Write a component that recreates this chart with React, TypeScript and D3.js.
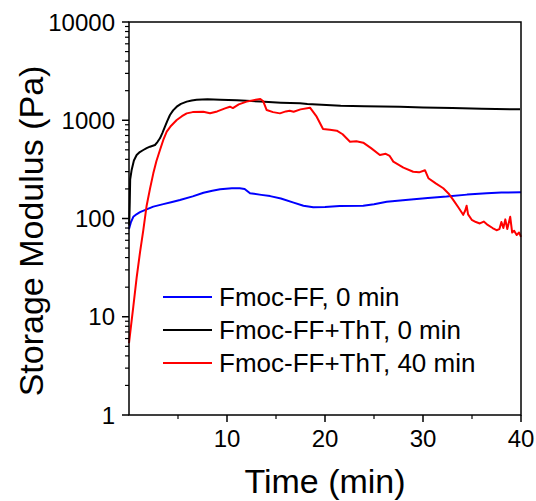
import React from "react";
import * as d3 from "d3";

const blackT = [0.02, 0.08, 0.12, 0.27, 0.5, 0.78, 1.1, 1.46, 1.8, 2.14, 2.65, 2.9, 3.16, 3.4, 3.67, 3.9, 4.18, 4.5, 4.87, 5.3, 5.89, 6.4, 6.9, 8, 9.3, 11, 13.4, 15.5, 17.45, 18.2, 21.6, 24, 27.65, 30, 33, 36, 39.9];
const blackV = [85, 150, 250, 312, 390, 443, 475, 498, 520, 538, 560, 600, 655, 740, 860, 980, 1130, 1260, 1374, 1470, 1548, 1590, 1615, 1635, 1620, 1595, 1548, 1510, 1487, 1463, 1406, 1390, 1374, 1350, 1330, 1310, 1292];

const blueT = [0, 0.2, 0.44, 0.8, 1.12, 1.8, 2.48, 3.5, 4.4, 5.2, 6.5, 7.6, 8.5, 9.3, 10.5, 11.3, 11.8, 12.35, 13.5, 14.4, 15.5, 16.8, 17.8, 18.8, 20, 21.5, 23.9, 25, 26.3, 28.5, 30.5, 32.4, 34.5, 36.5, 38, 40];
const blueV = [78, 92, 104, 111, 116, 124, 132, 140, 147, 154, 168, 183, 192, 198, 203, 203, 200, 181, 174, 169, 160, 145, 135, 130, 131, 134, 135, 140, 148, 155, 162, 167, 175, 181, 184, 185];

const redT = [0, 0.2, 0.44, 0.78, 1.12, 1.46, 1.8, 2.14, 2.48, 2.8, 3.16, 3.5, 3.85, 4.3, 4.87, 5.4, 5.89, 6.5, 7.58, 8.27, 9, 9.8, 10.3, 10.6, 11.2, 12, 12.7, 13.4, 13.7, 14.05, 14.7, 15.4, 16.0, 16.4, 16.8, 17.5, 18.47, 19.15, 19.8, 20.5, 21.2, 21.8, 22.55, 23.2, 23.9, 24.7, 25.6, 26.2, 26.6, 26.97, 28, 29, 29.6, 30.2, 30.55, 31.3, 32.07, 32.6, 33.1, 33.6, 34.1, 34.3, 34.45, 34.6, 34.97, 35.4, 35.8, 36.2, 36.6, 37.1, 37.5, 37.8, 38.0, 38.2, 38.4, 38.6, 38.9, 39.1, 39.3, 39.56, 39.8, 40];
const redV = [5.4, 8, 12.7, 25, 45, 76, 135, 200, 288, 385, 498, 630, 765, 880, 1006, 1100, 1175, 1210, 1222, 1180, 1230, 1320, 1374, 1330, 1450, 1548, 1600, 1645, 1560, 1271, 1210, 1175, 1230, 1250, 1220, 1290, 1343, 1087, 815, 800, 783, 720, 605, 610, 591, 520, 443, 455, 433, 379, 330, 299, 295, 310, 257, 228, 203, 180, 154, 130, 109, 120, 135, 110, 97, 92, 89, 93, 86, 80, 76, 78, 92, 80, 98, 78, 104, 72, 75, 68, 72, 65];

const legendLabels = ["Fmoc-FF, 0 min", "Fmoc-FF+ThT, 0 min", "Fmoc-FF+ThT, 40 min"];
const colors = ["#0000ff", "#000000", "#ff0000"];
const xTicks = [10, 20, 30, 40];
const xMinor = [5, 15, 25, 35];
const yTicks = [1, 10, 100, 1000, 10000];

const W = 536, H = 501;
const left = 129, right = 521, top = 22, bottom = 415;
const FONT = "'Liberation Sans', Arial, sans-serif";

export default function App() {
  const x = d3.scaleLinear().domain([0, 40]).range([left, right]);
  const y = d3.scaleLog().domain([1, 10000]).range([bottom, top]);
  const series = [
    { t: blueT, v: blueV },
    { t: blackT, v: blackV },
    { t: redT, v: redV },
  ];
  const line = d3.line<[number, number]>().x((d) => x(d[0])).y((d) => y(d[1]));
  const yMinor: number[] = [];
  for (let dec = 1; dec < 10000; dec *= 10) for (let k = 2; k <= 9; k++) yMinor.push(dec * k);

  return (
    <svg width={W} height={H} style={{ position: "absolute", left: 0, top: 0 }} fontFamily={FONT}>
      <rect width={W} height={H} fill="#fff" />
      {series.map((s, i) => (
        <path
          key={i}
          d={line(s.t.map((t, j) => [t, s.v[j]] as [number, number])) || ""}
          fill="none"
          stroke={colors[i]}
          strokeWidth={2}
          strokeLinejoin="round"
        />
      ))}
      <rect x={left} y={top} width={right - left} height={bottom - top} fill="none" stroke="#000" strokeWidth={1.5} />
      {yTicks.map((v) => (
        <g key={v}>
          <line x1={left - 7} x2={left} y1={y(v)} y2={y(v)} stroke="#000" strokeWidth={1.5} />
          <text x={left - 14} y={y(v)} dy="0.36em" textAnchor="end" fontSize={24}>{v}</text>
        </g>
      ))}
      {yMinor.map((v) => (
        <line key={v} x1={left - 4} x2={left} y1={y(v)} y2={y(v)} stroke="#000" strokeWidth={1.2} />
      ))}
      {xTicks.map((v) => (
        <g key={v}>
          <line x1={x(v)} x2={x(v)} y1={bottom} y2={bottom + 7} stroke="#000" strokeWidth={1.5} />
          <text x={x(v)} y={bottom + 32} textAnchor="middle" fontSize={24}>{v}</text>
        </g>
      ))}
      {xMinor.map((v) => (
        <line key={v} x1={x(v)} x2={x(v)} y1={bottom} y2={bottom + 4} stroke="#000" strokeWidth={1.2} />
      ))}
      <text x={(left + right) / 2} y={493} textAnchor="middle" fontSize={34}>Time (min)</text>
      <text transform={`translate(43,231) rotate(-90)`} textAnchor="middle" fontSize={34}>Storage Modulus (Pa)</text>
      {legendLabels.map((l, i) => (
        <g key={l}>
          <line x1={163} x2={212} y1={297 + i * 33} y2={297 + i * 33} stroke={colors[i]} strokeWidth={2} />
          <text x={219} y={297 + i * 33} dy="0.36em" fontSize={26}>{l}</text>
        </g>
      ))}
    </svg>
  );
}
